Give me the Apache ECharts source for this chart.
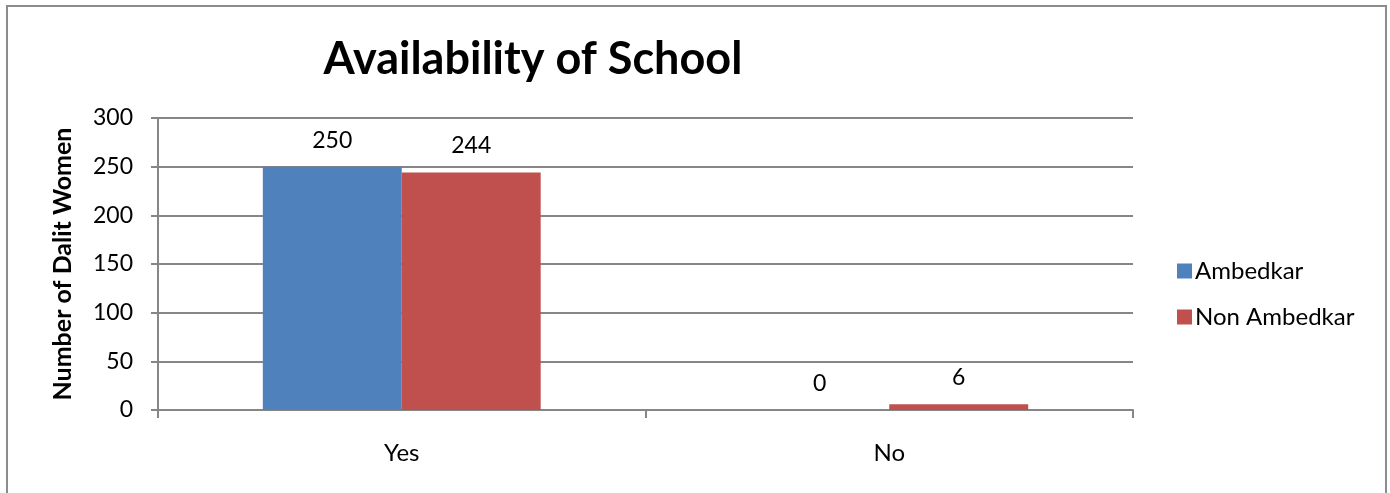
<!DOCTYPE html>
<html>
<head>
<meta charset="utf-8">
<script src="https://cdn.jsdelivr.net/npm/echarts@6/dist/echarts.min.js"></script>
<style>
  html, body { margin: 0; padding: 0; background: #fff; }
  #chart { width: 1390px; height: 493px; }
</style>
</head>
<body>
<div id="chart"></div>
<script>
// Survey answers: is a school available?
const categories = ['Yes', 'No'];
const ambedkar = [250, 0];
const nonAmbedkar = [244, 6];
const yTicks = { min: 0, max: 300, interval: 50 };

const font = 'Lato, "Open Sans", sans-serif';

const chart = echarts.init(document.getElementById('chart'), null, { renderer: 'canvas' });

const labelStyle = {
  show: true,
  position: 'top',
  distance: 15,
  color: '#000',
  fontSize: 23,
  fontFamily: font
};

chart.setOption({
  animation: false,
  backgroundColor: '#fff',
  title: {
    text: 'Availability of School',
    left: 528,
    top: 32,
    textAlign: 'center',
    textStyle: { fontSize: 45, fontWeight: 'bold', color: '#000', fontFamily: font }
  },
  graphic: [{
    type: 'rect',
    shape: { x: 7, y: 6, width: 1379, height: 500 },
    style: { fill: 'none', stroke: '#8c8c8c', lineWidth: 2 },
    silent: true
  }],
  legend: {
    orient: 'vertical',
    left: 1172,
    top: 254,
    itemWidth: 15,
    itemHeight: 15,
    itemGap: 22,
    icon: 'rect',
    textStyle: { fontSize: 24, color: '#000', fontFamily: font, padding: [0, 0, 0, -2] },
    data: ['Ambedkar', 'Non Ambedkar']
  },
  grid: { left: 158, right: 257, top: 118, bottom: 83 },
  xAxis: {
    type: 'category',
    data: categories,
    boundaryGap: true,
    axisLine: { lineStyle: { color: '#868686', width: 2 } },
    axisTick: { show: true, length: 8, alignWithLabel: false, lineStyle: { color: '#868686', width: 2 } },
    axisLabel: { fontSize: 24, color: '#000', fontFamily: font, margin: 31 },
    splitLine: { show: false }
  },
  yAxis: {
    type: 'value',
    min: yTicks.min,
    max: yTicks.max,
    interval: yTicks.interval,
    name: 'Number of Dalit Women',
    nameLocation: 'middle',
    nameGap: 83,
    nameTextStyle: { fontSize: 25, fontWeight: 'bold', color: '#000', fontFamily: font },
    axisLine: { show: true, lineStyle: { color: '#868686', width: 2 } },
    axisTick: { show: true, length: 7, lineStyle: { color: '#868686', width: 2 } },
    axisLabel: { fontSize: 23, color: '#000', fontFamily: font, margin: 25 },
    splitLine: { show: true, lineStyle: { color: '#868686', width: 2 } }
  },
  series: [
    {
      name: 'Ambedkar',
      type: 'bar',
      data: ambedkar,
      barGap: '0%',
      barCategoryGap: '43%',
      itemStyle: { color: '#4F81BD' },
      label: labelStyle
    },
    {
      name: 'Non Ambedkar',
      type: 'bar',
      data: nonAmbedkar,
      itemStyle: { color: '#C0504D' },
      label: labelStyle
    }
  ]
});
</script>
</body>
</html>
